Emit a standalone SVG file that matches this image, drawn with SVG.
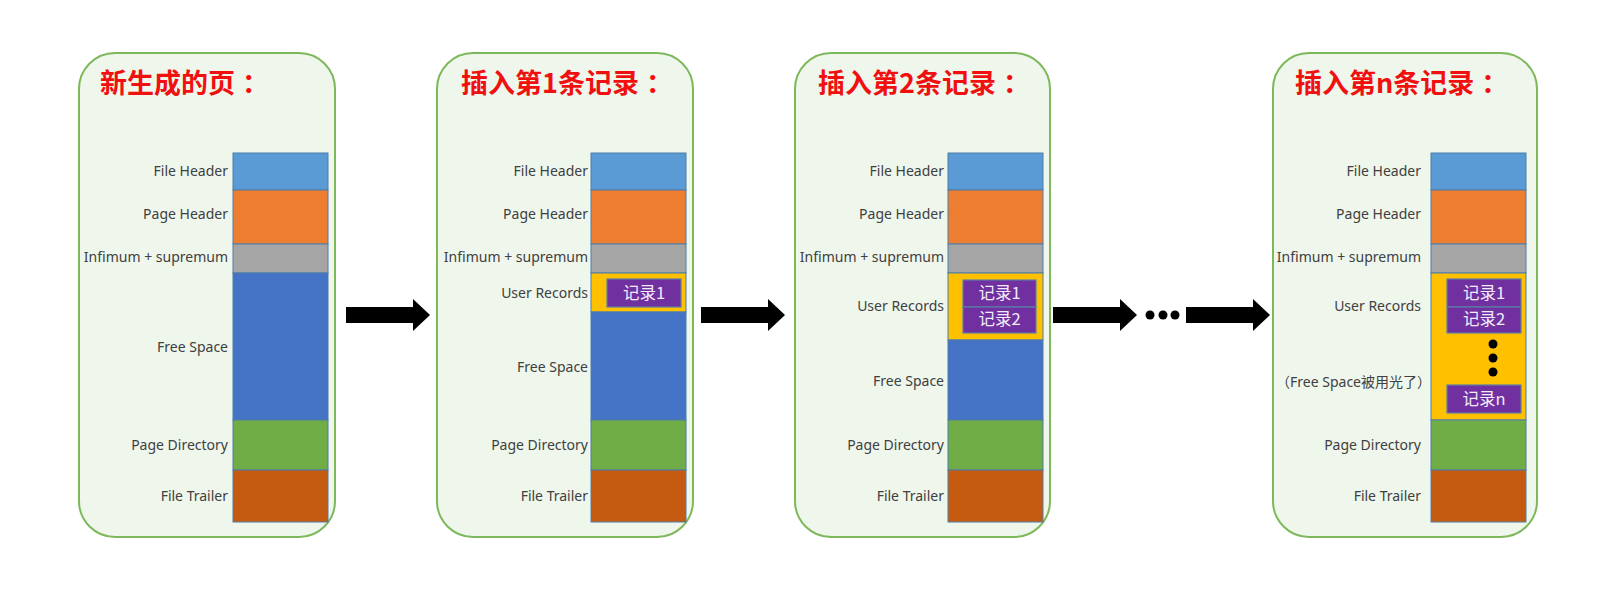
<svg xmlns="http://www.w3.org/2000/svg" width="1606" height="594" viewBox="0 0 1606 594">
<style>
.panel{fill:#EFF6EC;stroke:#7DB85A;stroke-width:2}
.title{font-family:"Noto Sans CJK SC","Noto Sans",sans-serif;font-weight:bold;font-size:27px;fill:#F01010}
.lbl{font-family:"Noto Sans","Noto Sans CJK SC",sans-serif;font-size:14px;fill:#404040;text-anchor:end}
.sec{stroke:#4F7CA8;stroke-width:1}
.fh{fill:#5B9BD5}.ph{fill:#ED7D31}.inf{fill:#A5A5A5}.fs{fill:#4472C4}.pd{fill:#70AD47}.ft{fill:#C55A11}.ur{fill:#FFC000}
.rec{fill:#7030A0;stroke:#5A7EA6;stroke-width:1.2}
.rt{font-family:"Noto Sans CJK SC","Noto Sans",sans-serif;font-size:16.5px;fill:#F2ECF8;text-anchor:middle}
.arr{fill:#000}
</style>
<rect width="1606" height="594" fill="#FFFFFF"/>

<g id="page-new">
<rect class="panel" x="79" y="53" width="256" height="484" rx="36"/>
<text class="title" x="100" y="93">新生成的页<tspan dx="7">：</tspan></text>
<rect class="sec fh" x="233" y="153" width="95" height="37"/>
<rect class="sec ph" x="233" y="190" width="95" height="54"/>
<rect class="sec inf" x="233" y="244" width="95" height="29"/>
<rect class="sec fs" x="233" y="273" width="95" height="147"/>
<rect class="sec pd" x="233" y="420" width="95" height="50"/>
<rect class="sec ft" x="233" y="470" width="95" height="52"/>
<text class="lbl" x="228" y="176">File Header</text>
<text class="lbl" x="228" y="219">Page Header</text>
<text class="lbl" x="228" y="262">Infimum + supremum</text>
<text class="lbl" x="228" y="352">Free Space</text>
<text class="lbl" x="228" y="450">Page Directory</text>
<text class="lbl" x="228" y="501">File Trailer</text>
</g>

<g id="page-insert-1">
<rect class="panel" x="437" y="53" width="256" height="484" rx="36"/>
<text class="title" x="461" y="93">插入第1条记录<tspan dx="7">：</tspan></text>
<rect class="sec fh" x="591" y="153" width="95" height="37"/>
<rect class="sec ph" x="591" y="190" width="95" height="54"/>
<rect class="sec inf" x="591" y="244" width="95" height="29"/>
<rect class="sec ur" x="591" y="273" width="95" height="39"/>
<rect class="sec fs" x="591" y="312" width="95" height="108"/>
<rect class="sec pd" x="591" y="420" width="95" height="50"/>
<rect class="sec ft" x="591" y="470" width="95" height="52"/>
<rect class="rec" x="607" y="279" width="74" height="28"/>
<text class="rt" x="644" y="299">记录1</text>
<text class="lbl" x="588" y="176">File Header</text>
<text class="lbl" x="588" y="219">Page Header</text>
<text class="lbl" x="588" y="262">Infimum + supremum</text>
<text class="lbl" x="588" y="298">User Records</text>
<text class="lbl" x="588" y="372">Free Space</text>
<text class="lbl" x="588" y="450">Page Directory</text>
<text class="lbl" x="588" y="501">File Trailer</text>
</g>

<g id="page-insert-2">
<rect class="panel" x="795" y="53" width="255" height="484" rx="36"/>
<text class="title" x="818" y="93">插入第2条记录<tspan dx="7">：</tspan></text>
<rect class="sec fh" x="948" y="153" width="95" height="37"/>
<rect class="sec ph" x="948" y="190" width="95" height="54"/>
<rect class="sec inf" x="948" y="244" width="95" height="29"/>
<rect class="sec ur" x="948" y="273" width="95" height="67"/>
<rect class="sec fs" x="948" y="340" width="95" height="80"/>
<rect class="sec pd" x="948" y="420" width="95" height="50"/>
<rect class="sec ft" x="948" y="470" width="95" height="52"/>
<rect class="rec" x="963" y="280" width="73" height="27"/>
<rect class="rec" x="963" y="307" width="73" height="26"/>
<text class="rt" x="999.5" y="299">记录1</text>
<text class="rt" x="999.5" y="325">记录2</text>
<text class="lbl" x="944" y="176">File Header</text>
<text class="lbl" x="944" y="219">Page Header</text>
<text class="lbl" x="944" y="262">Infimum + supremum</text>
<text class="lbl" x="944" y="311">User Records</text>
<text class="lbl" x="944" y="386">Free Space</text>
<text class="lbl" x="944" y="450">Page Directory</text>
<text class="lbl" x="944" y="501">File Trailer</text>
</g>

<g id="page-insert-n">
<rect class="panel" x="1273" y="53" width="264" height="484" rx="36"/>
<text class="title" x="1295" y="93">插入第n条记录<tspan dx="7">：</tspan></text>
<rect class="sec fh" x="1431" y="153" width="95" height="37"/>
<rect class="sec ph" x="1431" y="190" width="95" height="54"/>
<rect class="sec inf" x="1431" y="244" width="95" height="29"/>
<rect class="sec ur" x="1431" y="273" width="95" height="147"/>
<rect class="sec pd" x="1431" y="420" width="95" height="50"/>
<rect class="sec ft" x="1431" y="470" width="95" height="52"/>
<rect class="rec" x="1447" y="279" width="74" height="28"/>
<rect class="rec" x="1447" y="307" width="74" height="26"/>
<rect class="rec" x="1447" y="385" width="74" height="28"/>
<text class="rt" x="1484" y="299">记录1</text>
<text class="rt" x="1484" y="325">记录2</text>
<text class="rt" x="1484" y="405">记录n</text>
<circle cx="1493" cy="344" r="4.5" fill="#000"/>
<circle cx="1493" cy="358" r="4.5" fill="#000"/>
<circle cx="1493" cy="372" r="4.5" fill="#000"/>
<text class="lbl" x="1421" y="176">File Header</text>
<text class="lbl" x="1421" y="219">Page Header</text>
<text class="lbl" x="1421" y="262">Infimum + supremum</text>
<text class="lbl" x="1421" y="311">User Records</text>
<text class="lbl" x="1431" y="387">（Free Space被用光了）</text>
<text class="lbl" x="1421" y="450">Page Directory</text>
<text class="lbl" x="1421" y="501">File Trailer</text>
</g>

<g id="connectors">
<polygon class="arr" points="346,307 413,307 413,299 430,315 413,331 413,323 346,323"/>
<polygon class="arr" points="701,307 768,307 768,299 785,315 768,331 768,323 701,323"/>
<polygon class="arr" points="1053,307 1120,307 1120,299 1137,315 1120,331 1120,323 1053,323"/>
<circle cx="1150" cy="315" r="4.5" fill="#000"/>
<circle cx="1163" cy="315" r="4.5" fill="#000"/>
<circle cx="1175" cy="315" r="4.5" fill="#000"/>
<polygon class="arr" points="1186,307 1253,307 1253,299 1270,315 1253,331 1253,323 1186,323"/>
</g>
</svg>
